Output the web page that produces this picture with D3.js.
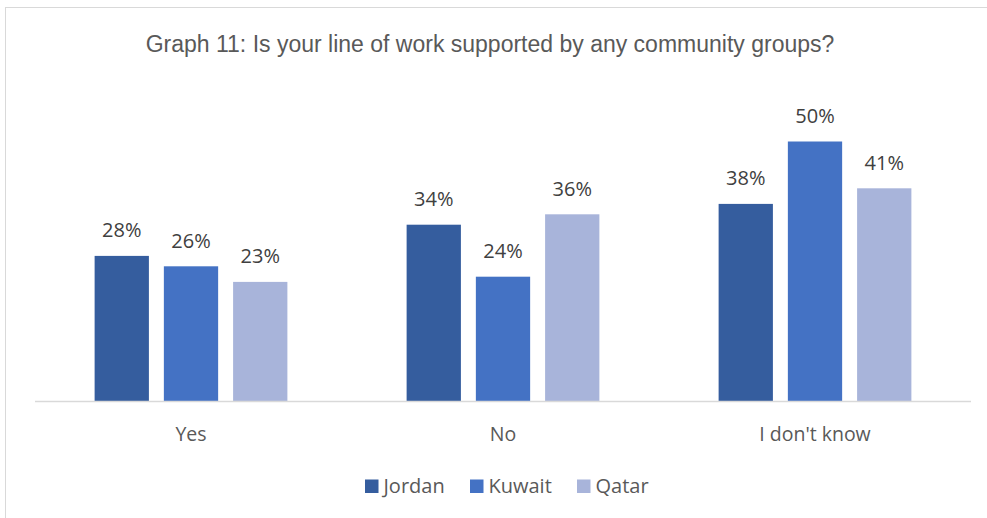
<!DOCTYPE html>
<html>
<head>
<meta charset="utf-8">
<script src="https://cdn.jsdelivr.net/npm/d3@7"></script>
<style>
  html, body { margin: 0; padding: 0; background: #fff; }
  svg { display: block; }
</style>
</head>
<body>
<svg id="chart" width="987" height="518"></svg>
<script>
// Survey answers by country
const categories = ["Yes", "No", "I don't know"];
const seriesNames = ["Jordan", "Kuwait", "Qatar"];
const jordan = [0.28, 0.34, 0.38];
const kuwait = [0.26, 0.24, 0.50];
const qatar  = [0.23, 0.36, 0.41];
const seriesColors = ["#355D9E", "#4472C4", "#A8B4DA"];
const title = "Graph 11: Is your line of work supported by any community groups?";

const seriesValues = [jordan, kuwait, qatar];
const rows = categories.map((c, i) => ({
  category: c,
  values: seriesNames.map((s, j) => ({ series: s, value: seriesValues[j][i], idx: j }))
}));

const svg = d3.select("#chart");
const plot = { left: 35, right: 971, top: 89.5, bottom: 401.5 };

// Chart frame
svg.append("rect")
  .attr("x", 5.5).attr("y", 7.5)
  .attr("width", 1000).attr("height", 600)
  .attr("fill", "#fff").attr("stroke", "#d9d9d9").attr("stroke-width", 1);

// Title
svg.append("text")
  .attr("x", 490).attr("y", 52)
  .attr("text-anchor", "middle")
  .attr("font-family", "'Liberation Sans', Arial, sans-serif")
  .attr("font-size", 23)
  .attr("fill", "#595959")
  .text(title);

const x0 = d3.scaleBand().domain(categories).range([plot.left, plot.right]).padding(0);
const x1 = d3.scaleBand().domain(seriesNames).range([0, x0.bandwidth()])
  .paddingInner(0.216).paddingOuter(0.861);
const y = d3.scaleLinear().domain([0, 0.6]).range([plot.bottom, plot.top]);
const color = d3.scaleOrdinal().domain(seriesNames).range(seriesColors);

const groups = svg.append("g").selectAll("g")
  .data(rows).join("g")
  .attr("transform", d => `translate(${x0(d.category)},0)`);

groups.selectAll("rect")
  .data(d => d.values).join("rect")
  .attr("x", d => x1(d.series))
  .attr("y", d => y(d.value))
  .attr("width", x1.bandwidth())
  .attr("height", d => y(0) - y(d.value))
  .attr("fill", d => color(d.series));

groups.selectAll("text.lbl")
  .data(d => d.values).join("text")
  .attr("class", "lbl")
  .attr("x", d => x1(d.series) + x1.bandwidth() / 2)
  .attr("y", d => y(d.value) - 18.5)
  .attr("text-anchor", "middle")
  .attr("font-family", "'Open Sans', sans-serif")
  .attr("font-size", 20)
  .attr("fill", "#404040")
  .text(d => d3.format(".0%")(d.value));

// Category axis
const xAxis = svg.append("g")
  .attr("transform", `translate(0,${plot.bottom})`)
  .call(d3.axisBottom(x0).tickSize(0).tickPadding(0));
xAxis.select(".domain").attr("stroke", "#d9d9d9").attr("stroke-width", 1.5)
  .attr("d", `M${plot.left},0H${plot.right}`);
xAxis.selectAll(".tick text")
  .attr("y", 39.5).attr("dy", null)
  .attr("font-family", "'Open Sans', sans-serif")
  .attr("font-size", 19.5)
  .attr("fill", "#595959");

// Legend
const legendX = [365, 470, 577];
const legend = svg.append("g").selectAll("g")
  .data(seriesNames).join("g")
  .attr("transform", (d, i) => `translate(${legendX[i]},479.5)`);
legend.append("rect")
  .attr("width", 13.5).attr("height", 13.5)
  .attr("fill", d => color(d));
legend.append("text")
  .attr("x", 18.5).attr("y", 13.5)
  .attr("font-family", "'Open Sans', sans-serif")
  .attr("font-size", 20)
  .attr("fill", "#595959")
  .text(d => d);
</script>
</body>
</html>
